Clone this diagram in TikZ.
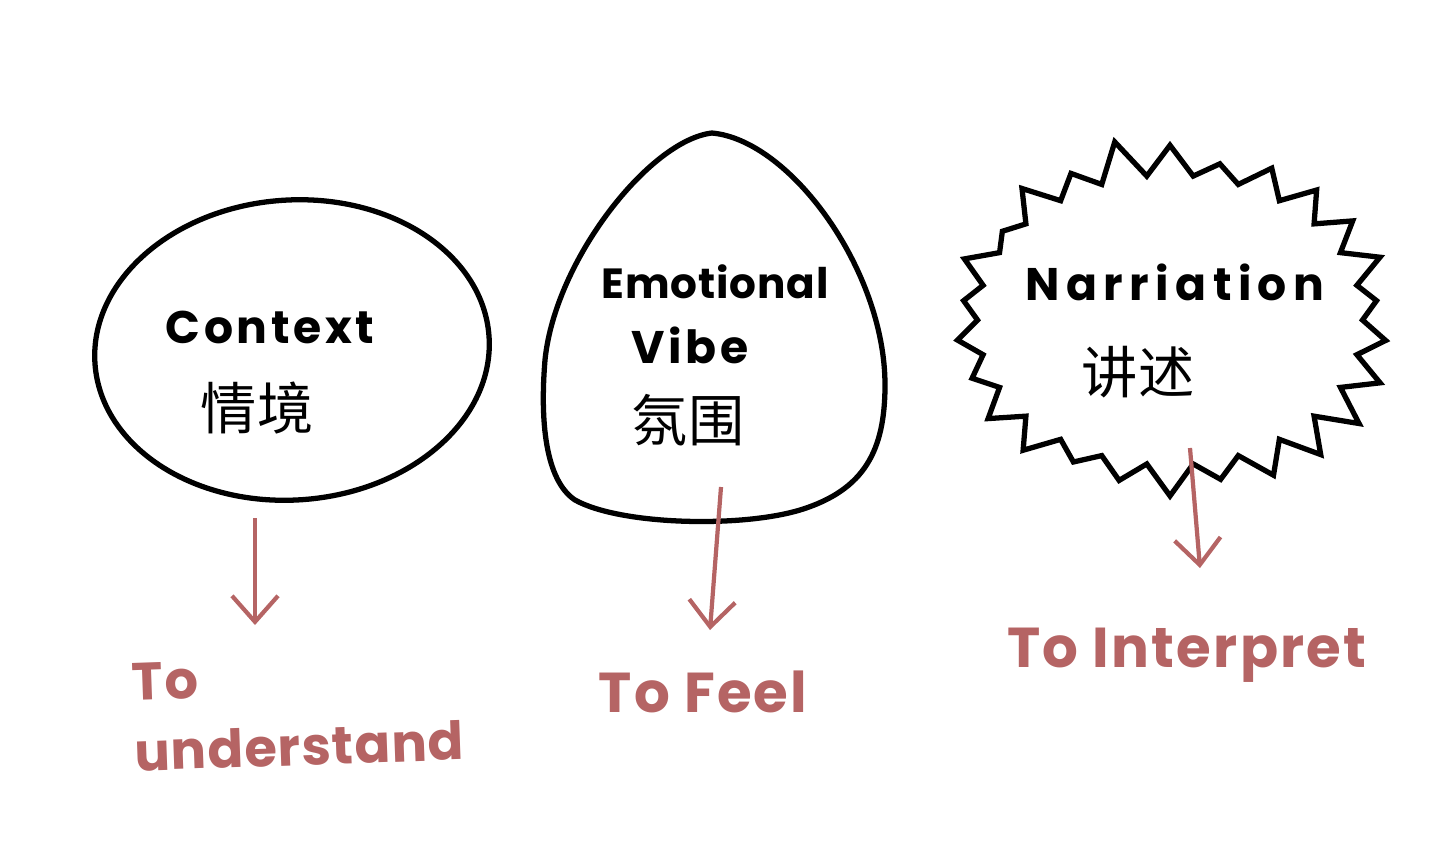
\documentclass[tikz,border=0pt]{standalone}
\usepackage{fontspec}
\setmainfont{Poppins}
\newfontfamily\cjk{Noto Sans CJK SC}
\usetikzlibrary{shapes.geometric,shapes.symbols,arrows.meta}
\definecolor{penred}{RGB}{181,100,100}
\begin{document}
\begin{tikzpicture}[x=0.1mm,y=-0.1mm,
  blob/.style={draw, line width=1.5pt, inner sep=0pt},
  word/.style={font=\fontsize{13}{16}\selectfont\bfseries\addfontfeature{LetterSpace=8}, inner sep=0pt},
  hanzi/.style={font=\fontsize{16}{18}\selectfont\cjk, inner sep=0pt},
  goal/.style={text=penred, font=\fontsize{16}{20}\selectfont\bfseries\addfontfeature{LetterSpace=4}, inner sep=0pt},
  arr/.style={draw=penred, line width=1.2pt, -{Straight Barb[length=2.6mm,width=4.6mm]}}
]
\useasboundingbox (0,0) rectangle (1456,864);
% the three shapes
\node[blob, ellipse, rotate=4, minimum width=39.5mm, minimum height=30mm] (ctx) at (292,350) {};
\draw[line width=1.5pt] (712,133) .. controls (790,140) and (885,270) .. (885,385)
  .. controls (885,450) and (865,490) .. (800,510)
  .. controls (740,528) and (620,525) .. (575,500)
  .. controls (545,480) and (540,420) .. (545,360)
  .. controls (555,260) and (650,140) .. (712,133) -- cycle;
\node[blob, starburst, starburst points=26, starburst point height=4mm, random starburst=11,
  minimum width=46.5mm, minimum height=37mm] (nar) at (1170,320) {};
% texts
\node[word] (ctxw) at (270,327) {Context};
\node[hanzi] (ctxh) at (257,408) {情境};
\node[word, font=\fontsize{12}{14}\selectfont\bfseries\addfontfeature{LetterSpace=2}] (emow) at (715,282) {Emotional};
\node[word] (vibe) at (690,345) {Vibe};
\node[hanzi] (emoh) at (688,420) {氛围};
\node[word, font=\fontsize{13}{16}\selectfont\bfseries\addfontfeature{LetterSpace=14}] (narw) at (1175,282) {Narriation};
\node[hanzi] (narh) at (1138,372) {讲述};
% goals
\node[goal, align=left, rotate=2, font=\fontsize{15}{17}\selectfont\bfseries\addfontfeature{LetterSpace=2}] (und) at (298,712) {To\\[3pt]understand};
\node[goal] (feel) at (703,692) {To Feel};
\node[goal] (intp) at (1187,655) {To Interpret};
% arrows
\coordinate (s1) at (255,518);
\coordinate (e1) at (255,625);
\coordinate (s2) at (721,487);
\coordinate (e2) at (710,630);
\coordinate (s3) at (1190,448);
\coordinate (e3) at (1200,568);
\draw[arr] (s1) -- (e1);
\draw[arr] (s2) -- (e2);
\draw[arr] (s3) -- (e3);
\end{tikzpicture}
\end{document}
